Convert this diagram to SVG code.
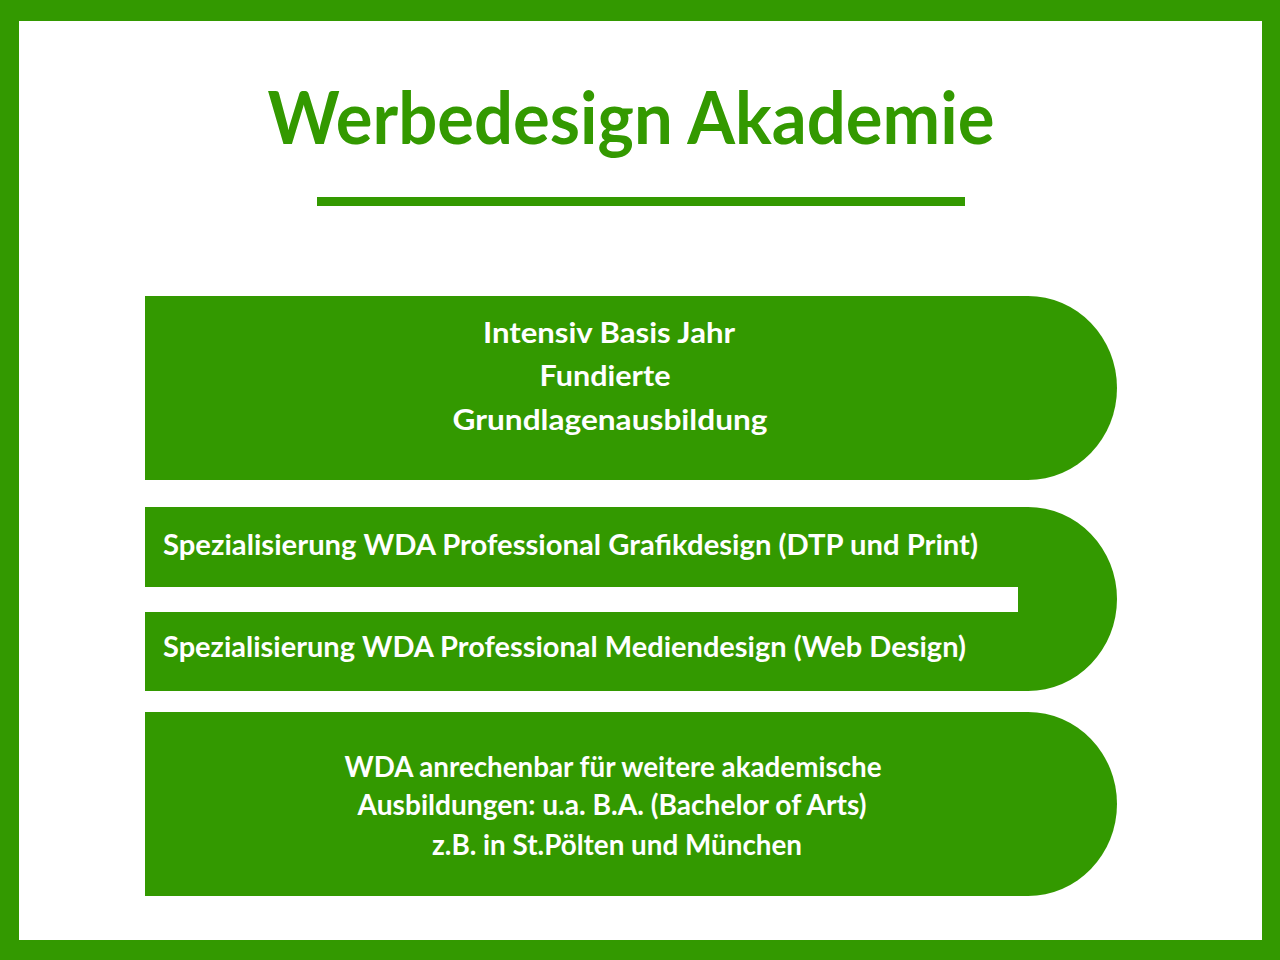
<svg xmlns="http://www.w3.org/2000/svg" width="1280" height="960" viewBox="0 0 1280 960">
<style>
.g{fill:#339900}
.t{font-family:Lato,"Liberation Sans",sans-serif;font-weight:bold;fill:#ffffff;font-size:29px}
.title{font-family:Lato,"Liberation Sans",sans-serif;font-weight:bold;fill:#339900;font-size:72px}
</style>
<rect x="0" y="0" width="1280" height="960" class="g"/>
<rect x="19" y="21" width="1243" height="919" fill="#ffffff"/>
<g id="title">
<text class="title" x="631" y="144" text-anchor="middle" textLength="727" lengthAdjust="spacingAndGlyphs">Werbedesign Akademie</text>
<rect x="317" y="197" width="648" height="9" class="g"/>
</g>
<g id="node1">
<path class="g" d="M145 296 H1028 A89 92 0 0 1 1028 480 H145 Z"/>
<text class="t" x="609" y="343" text-anchor="middle" textLength="252" lengthAdjust="spacingAndGlyphs">Intensiv Basis Jahr</text>
<text class="t" x="605" y="386" text-anchor="middle" textLength="131" lengthAdjust="spacingAndGlyphs">Fundierte</text>
<text class="t" x="610" y="430" text-anchor="middle" textLength="315" lengthAdjust="spacingAndGlyphs">Grundlagenausbildung</text>
</g>
<g id="node2">
<path class="g" d="M145 507 H1028 A89 92 0 0 1 1028 691 H145 V612 H1018 V587 H145 Z"/>
<text class="t" x="163" y="555" textLength="815" lengthAdjust="spacingAndGlyphs">Spezialisierung WDA Professional Grafikdesign (DTP und Print)</text>
<text class="t" x="163" y="657" textLength="803" lengthAdjust="spacingAndGlyphs">Spezialisierung WDA Professional Mediendesign (Web Design)</text>
</g>
<g id="node3">
<path class="g" d="M145 712 H1028 A89 92 0 0 1 1028 896 H145 Z"/>
<text class="t" x="613" y="777" text-anchor="middle" textLength="537" lengthAdjust="spacingAndGlyphs">WDA anrechenbar für weitere akademische</text>
<text class="t" x="612" y="815" text-anchor="middle" textLength="509" lengthAdjust="spacingAndGlyphs">Ausbildungen: u.a. B.A. (Bachelor of Arts)</text>
<text class="t" x="617" y="855" text-anchor="middle" textLength="370" lengthAdjust="spacingAndGlyphs">z.B. in St.Pölten und München</text>
</g>
<g id="connectors"/>
</svg>
